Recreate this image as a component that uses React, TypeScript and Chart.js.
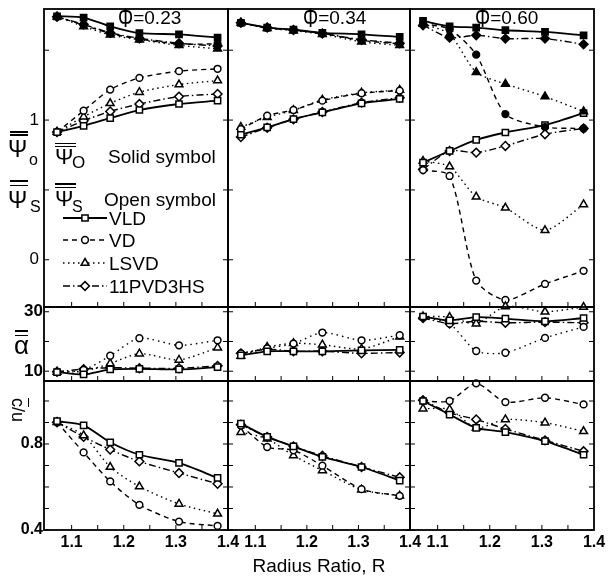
import React, { useEffect, useRef } from 'react';
import { Chart, registerables } from 'chart.js';

Chart.register(...registerables);

const W = 608;
const H = 581;
const FONT = '"Liberation Sans", Arial, sans-serif';
Chart.defaults.font.family = FONT;

// ---------- data ----------
const R = [1.072, 1.123, 1.174, 1.23, 1.306, 1.38];
const X_MIN = 1.047;
const X_MAX = 1.4;
const X_TICKS = [1.1, 1.15, 1.2, 1.25, 1.3, 1.35];
const X_LABELS = [1.1, 1.2, 1.3, 1.4];
const X_LABEL_TEXT = ['1.1', '1.2', '1.3', '1.4'];

const PHI = ['0.23', '0.34', '0.60'];
const SERIES_NAMES = ['VLD', 'VD', 'LSVD', '11PVD3HS'];

// psi-bar-o (solid symbols), phi = 0.23
const psiO_023_VLD = [1.743, 1.734, 1.671, 1.623, 1.613, 1.59];
const psiO_023_VD = [1.74, 1.68, 1.62, 1.58, 1.545, 1.545];
const psiO_023_LSVD = [1.74, 1.67, 1.61, 1.575, 1.535, 1.51];
const psiO_023_PVD = [1.74, 1.685, 1.625, 1.585, 1.55, 1.53];
// psi-bar-s (open symbols), phi = 0.23
const psiS_023_VLD = [0.914, 0.959, 1.014, 1.072, 1.115, 1.139];
const psiS_023_VD = [0.914, 1.067, 1.218, 1.302, 1.35, 1.367];
const psiS_023_LSVD = [0.914, 1.024, 1.12, 1.2, 1.254, 1.283];
const psiS_023_PVD = [0.914, 0.995, 1.062, 1.115, 1.168, 1.187];

// phi = 0.34
const psiO_034_VLD = [1.696, 1.662, 1.647, 1.624, 1.614, 1.595];
const psiO_034_VD = [1.696, 1.66, 1.645, 1.62, 1.57, 1.545];
const psiO_034_LSVD = [1.696, 1.658, 1.64, 1.615, 1.56, 1.535];
const psiO_034_PVD = [1.696, 1.662, 1.645, 1.62, 1.575, 1.55];
const psiS_034_VLD = [0.895, 0.947, 1.007, 1.055, 1.12, 1.151];
const psiS_034_VD = [0.935, 1.031, 1.072, 1.139, 1.192, 1.211];
const psiS_034_LSVD = [0.95, 1.02, 1.07, 1.145, 1.195, 1.215];
const psiS_034_PVD = [0.878, 0.945, 1.005, 1.058, 1.125, 1.16];

// phi = 0.60
const psiO_060_VLD = [1.71, 1.671, 1.662, 1.643, 1.631, 1.607];
const psiO_060_VD = [1.69, 1.65, 1.468, 1.043, 0.95, 0.94];
const psiO_060_LSVD = [1.69, 1.614, 1.343, 1.259, 1.168, 1.062];
const psiO_060_PVD = [1.679, 1.59, 1.607, 1.583, 1.583, 1.542];
const psiS_060_VLD = [0.695, 0.779, 0.858, 0.911, 0.964, 1.05];
const psiS_060_VD = [0.642, 0.6, -0.149, -0.288, -0.173, -0.079];
const psiS_060_LSVD = [0.707, 0.667, 0.451, 0.372, 0.211, 0.396];
const psiS_060_PVD = [0.647, 0.779, 0.767, 0.815, 0.899, 0.94];

// alpha-bar
const alpha_023_VLD = [9.7, 8.9, 10.6, 10.8, 10.6, 11.4];
const alpha_023_VD = [9.7, 10.4, 15.2, 21.1, 18.7, 20.4];
const alpha_023_LSVD = [9.7, 10.0, 12.6, 15.9, 13.8, 17.9];
const alpha_023_PVD = [9.8, 10.7, 11.2, 11.0, 11.0, 11.8];
const alpha_034_VLD = [15.3, 16.7, 16.7, 16.7, 17.0, 17.2];
const alpha_034_VD = [16.0, 17.7, 19.3, 23.0, 20.4, 22.1];
const alpha_034_LSVD = [15.1, 18.1, 19.4, 18.9, 17.5, 21.6];
const alpha_034_PVD = [16.0, 17.4, 16.7, 16.7, 16.0, 16.3];
const alpha_060_VLD = [28.4, 27.1, 28.2, 27.7, 26.8, 27.9];
const alpha_060_VD = [28.2, 26.0, 16.8, 16.2, 21.2, 24.9];
const alpha_060_LSVD = [28.4, 28.2, 26.0, 31.8, 30.0, 31.6];
const alpha_060_PVD = [27.9, 26.0, 26.8, 26.3, 26.5, 26.3];

// c-bar / u
const cu_023_VLD = [0.906, 0.887, 0.808, 0.75, 0.712, 0.642];
const cu_023_VD = [0.901, 0.761, 0.626, 0.517, 0.439, 0.419];
const cu_023_LSVD = [0.901, 0.84, 0.693, 0.602, 0.521, 0.475];
const cu_023_PVD = [0.901, 0.833, 0.774, 0.719, 0.665, 0.615];
const cu_034_VLD = [0.895, 0.833, 0.789, 0.74, 0.693, 0.63];
const cu_034_VD = [0.886, 0.786, 0.771, 0.699, 0.59, 0.559];
const cu_034_LSVD = [0.855, 0.824, 0.746, 0.677, 0.587, 0.559];
const cu_034_PVD = [0.89, 0.833, 0.789, 0.745, 0.693, 0.645];
const cu_060_VLD = [1.0, 0.937, 0.875, 0.855, 0.813, 0.75];
const cu_060_VD = [1.0, 1.0, 1.082, 0.995, 1.015, 0.984];
const cu_060_LSVD = [0.964, 0.961, 0.875, 0.914, 0.899, 0.859];
const cu_060_PVD = [1.004, 0.945, 0.914, 0.87, 0.817, 0.766];

// y axes: ranges, tick marks and labels
const PSI_RANGE = [-0.338, 1.795];
const PSI_TICKS = [0, 0.5, 1, 1.5];
const PSI_LABELS = [0, 1];
const PSI_LABEL_TEXT = ['0', '1'];
const ALPHA_RANGE = [6.7, 31.6];
const ALPHA_TICKS = [10, 20, 30];
const ALPHA_LABELS = [10, 30];
const ALPHA_LABEL_TEXT = ['10', '30'];
const CU_RANGE = [0.4, 1.093];
const CU_TICKS = [0.4, 0.5, 0.6, 0.7, 0.8, 0.9, 1.0];
const CU_LABELS = [0.4, 0.8];
const CU_LABEL_TEXT = ['0.4', '0.8'];

// ---------- layout ----------
const COLS = [[44, 228], [228, 410], [410, 594]];
const ROWS = [[9, 307], [307, 381], [381, 530]];
const YW = 40;
const XH = 30;

const KINDS = [
  { style: 'rect', dash: [] as number[], width: 1.8, radius: 4.4 },
  { style: 'circle', dash: [5, 4], width: 1.4, radius: 3.4 },
  { style: 'triangle', dash: [1.5, 3.5], width: 1.4, radius: 4.5 },
  { style: 'rectRot', dash: [7, 3, 1.5, 3], width: 1.4, radius: 4.4 },
];

type S = { vals: number[]; kind: number; filled: boolean; dash?: number[] };

const ROW_AXES = [
  { range: PSI_RANGE, ticks: PSI_TICKS, labels: PSI_LABELS, text: PSI_LABEL_TEXT, size: 17, weight: 'normal', pad: 5 },
  { range: ALPHA_RANGE, ticks: ALPHA_TICKS, labels: ALPHA_LABELS, text: ALPHA_LABEL_TEXT, size: 17, weight: 'bold', pad: 1 },
  { range: CU_RANGE, ticks: CU_TICKS, labels: CU_LABELS, text: CU_LABEL_TEXT, size: 16, weight: 'bold', pad: 1 },
];

const psiPanel = (o: number[][], s: number[][]): S[] => [
  ...o.map((v, k) => ({ vals: v, kind: k, filled: true })),
  ...s.map((v, k) => ({ vals: v, kind: k, filled: false })),
];

const PANELS: { r: number; c: number; series: S[] }[] = [
  { r: 0, c: 0, series: psiPanel([psiO_023_VLD, psiO_023_VD, psiO_023_LSVD, psiO_023_PVD], [psiS_023_VLD, psiS_023_VD, psiS_023_LSVD, psiS_023_PVD]) },
  { r: 0, c: 1, series: psiPanel([psiO_034_VLD, psiO_034_VD, psiO_034_LSVD, psiO_034_PVD], [psiS_034_VLD, psiS_034_VD, psiS_034_LSVD, psiS_034_PVD]) },
  { r: 0, c: 2, series: psiPanel([psiO_060_VLD, psiO_060_VD, psiO_060_LSVD, psiO_060_PVD], [psiS_060_VLD, psiS_060_VD, psiS_060_LSVD, psiS_060_PVD]) },
  ...[[alpha_023_VLD, alpha_023_VD, alpha_023_LSVD, alpha_023_PVD], [alpha_034_VLD, alpha_034_VD, alpha_034_LSVD, alpha_034_PVD], [alpha_060_VLD, alpha_060_VD, alpha_060_LSVD, alpha_060_PVD]].map((g, c) => ({
    r: 1, c, series: g.map((v, k) => ({ vals: v, kind: k, filled: false, dash: k === 1 ? [1.5, 4] : undefined })),
  })),
  ...[[cu_023_VLD, cu_023_VD, cu_023_LSVD, cu_023_PVD], [cu_034_VLD, cu_034_VD, cu_034_LSVD, cu_034_PVD], [cu_060_VLD, cu_060_VD, cu_060_LSVD, cu_060_PVD]].map((g, c) => ({
    r: 2, c, series: g.map((v, k) => ({ vals: v, kind: k, filled: false })),
  })),
];

function drawMarker(ctx: CanvasRenderingContext2D, style: string, x: number, y: number, r: number, filled: boolean) {
  ctx.beginPath();
  if (style === 'circle') ctx.arc(x, y, r, 0, Math.PI * 2);
  else if (style === 'rect') { const h = r * Math.SQRT1_2; ctx.rect(x - h, y - h, 2 * h, 2 * h); }
  else if (style === 'triangle') { ctx.moveTo(x, y - r); ctx.lineTo(x + r * 0.87, y + r * 0.5); ctx.lineTo(x - r * 0.87, y + r * 0.5); ctx.closePath(); }
  else { ctx.moveTo(x, y - r); ctx.lineTo(x + r, y); ctx.lineTo(x, y + r); ctx.lineTo(x - r, y); ctx.closePath(); }
  ctx.fillStyle = filled ? '#000' : '#fff';
  ctx.fill();
  ctx.setLineDash([]);
  ctx.lineWidth = 1.5;
  ctx.strokeStyle = '#000';
  ctx.stroke();
}

const LEGEND_Y = [218, 240, 263, 286];

function makeConfig(p: { r: number; c: number; series: S[] }): any {
  const [x0, x1] = COLS[p.c];
  const [y0, y1] = ROWS[p.r];
  const ax = ROW_AXES[p.r];
  const datasets = p.series.map((s) => {
    const k = KINDS[s.kind];
    return {
      data: R.map((x, i) => ({ x, y: s.vals[i] })),
      borderColor: '#000',
      borderWidth: k.width,
      borderDash: s.dash ?? k.dash,
      pointStyle: k.style,
      pointRadius: k.radius,
      pointBorderWidth: 1.5,
      pointBorderColor: '#000',
      pointBackgroundColor: s.filled ? '#000' : '#fff',
      tension: 0.25,
      fill: false,
      clip: false,
    };
  });
  const frame = {
    id: 'frame' + p.r + p.c,
    afterDraw(chart: any) {
      const { ctx, chartArea: a, scales } = chart;
      ctx.save();
      ctx.setLineDash([]);
      ctx.strokeStyle = '#000';
      ctx.lineWidth = 1;
      ctx.beginPath();
      for (const v of ax.ticks) {
        const py = scales.y.getPixelForValue(v);
        ctx.moveTo(a.left, py); ctx.lineTo(a.left + 5, py);
        ctx.moveTo(a.right, py); ctx.lineTo(a.right - 5, py);
      }
      for (const v of X_TICKS) {
        const px = scales.x.getPixelForValue(v);
        ctx.moveTo(px, a.bottom); ctx.lineTo(px, a.bottom - 5);
      }
      ctx.stroke();
      ctx.lineWidth = 1.8;
      ctx.strokeRect(a.left, a.top, a.right - a.left, a.bottom - a.top);
      if (p.r === 0 && p.c === 0) {
        LEGEND_Y.forEach((ly, k) => {
          const kd = KINDS[k];
          ctx.beginPath();
          ctx.setLineDash(kd.dash);
          ctx.lineWidth = kd.width;
          ctx.moveTo(63, ly); ctx.lineTo(107, ly);
          ctx.stroke();
          drawMarker(ctx, kd.style, 85, ly, kd.radius, false);
        });
      }
      ctx.restore();
    },
  };
  const zeroPad = (s: any) => { s.paddingLeft = 0; s.paddingRight = 0; s.paddingTop = 0; s.paddingBottom = 0; };
  return {
    type: 'line',
    data: { datasets },
    plugins: [frame],
    options: {
      animation: false,
      responsive: false,
      maintainAspectRatio: false,
      devicePixelRatio: 1,
      events: [],
      layout: { padding: { left: x0 - YW, right: W - x1, top: y0, bottom: H - y1 - XH } },
      plugins: { legend: { display: false }, tooltip: { enabled: false }, title: { display: false } },
      scales: {
        x: {
          type: 'linear', position: 'bottom', min: X_MIN, max: X_MAX,
          grid: { display: false, drawTicks: false }, border: { display: false },
          ticks: {
            display: p.r === 2, padding: 3, color: '#000', autoSkip: false, maxRotation: 0, minRotation: 0,
            font: { family: FONT, size: 16, weight: 'bold' },
            callback: (v: number) => { const i = X_LABELS.findIndex((t) => Math.abs(t - v) < 1e-9); return i >= 0 ? X_LABEL_TEXT[i] : ''; },
          },
          afterBuildTicks: (s: any) => { s.ticks = X_LABELS.map((v) => ({ value: v })); },
          afterFit: (s: any) => { s.height = XH; zeroPad(s); },
        },
        y: {
          type: 'linear', position: 'left', min: ax.range[0], max: ax.range[1],
          grid: { display: false, drawTicks: false }, border: { display: false },
          ticks: {
            display: p.c === 0, padding: ax.pad, color: '#000', autoSkip: false,
            font: { family: FONT, size: ax.size, weight: ax.weight },
            callback: (v: number) => { const i = ax.labels.findIndex((t) => Math.abs(t - v) < 1e-9); return i >= 0 ? ax.text[i] : ''; },
          },
          afterBuildTicks: (s: any) => { s.ticks = ax.labels.map((v) => ({ value: v })); },
          afterFit: (s: any) => { s.width = YW; zeroPad(s); },
        },
      },
    },
  };
}

function Panel({ p }: { p: { r: number; c: number; series: S[] } }) {
  const ref = useRef<HTMLCanvasElement>(null);
  useEffect(() => {
    const chart = new Chart(ref.current as HTMLCanvasElement, makeConfig(p));
    return () => chart.destroy();
  }, []);
  return <canvas ref={ref} width={W} height={H} style={{ position: 'absolute', left: 0, top: 0, width: W, height: H }} />;
}

function Txt(props: { x: number; cy: number; size: number; children: any; bold?: boolean; center?: boolean; style?: any }) {
  const { x, cy, size, children, bold, center, style } = props;
  return (
    <div style={{ position: 'absolute', left: x, top: cy - size * 0.49, fontSize: size, lineHeight: 1, whiteSpace: 'nowrap', fontWeight: bold ? 'bold' : 'normal', transform: center ? 'translateX(-50%)' : undefined, ...style }}>
      {children}
    </div>
  );
}

function Bar({ x, y, w, h = 1.6 }: { x: number; y: number; w: number; h?: number }) {
  return <div style={{ position: 'absolute', left: x, top: y, width: w, height: h, background: '#000' }} />;
}

const PHI_X = [118, 303, 475];

export default function App() {
  return (
    <div style={{ position: 'absolute', left: 0, top: 0, width: W, height: H, background: '#fff', fontFamily: FONT, color: '#000', overflow: 'hidden' }}>
      {PANELS.map((p) => <Panel key={`${p.r}-${p.c}`} p={p} />)}

      {PHI.map((t, i) => (
        <Txt key={t} x={PHI_X[i]} cy={17} size={19}>
          <span style={{ display: 'inline-block', transform: 'scaleY(1.45)' }}>Φ</span>={t}
        </Txt>
      ))}

      {/* outer y titles, top row */}
      <Bar x={10} y={131} w={18} />
      <Bar x={10} y={134.2} w={18} />
      <Txt x={8} cy={149} size={23}>Ψ</Txt>
      <Txt x={29} cy={160} size={16}>o</Txt>
      <Bar x={10} y={180} w={18} />
      <Bar x={10} y={184.5} w={18} />
      <Txt x={8} cy={200} size={23}>Ψ</Txt>
      <Txt x={30} cy={207} size={16}>S</Txt>

      {/* inner notes */}
      <Bar x={55} y={142.5} w={21} />
      <Bar x={55} y={145.7} w={21} />
      <Txt x={55} cy={157} size={22}>Ψ</Txt>
      <Txt x={72} cy={162} size={17}>O</Txt>
      <Txt x={108} cy={156} size={19}>Solid symbol</Txt>
      <Bar x={55} y={183} w={21} />
      <Bar x={55} y={186.5} w={21} />
      <Txt x={55} cy={199} size={22}>Ψ</Txt>
      <Txt x={72} cy={207} size={16}>S</Txt>
      <Txt x={104} cy={199} size={19}>Open symbol</Txt>

      {/* legend texts */}
      {SERIES_NAMES.map((n, k) => (
        <Txt key={n} x={109} cy={LEGEND_Y[k]} size={19}>{n}</Txt>
      ))}

      {/* alpha title */}
      <Bar x={15} y={330} w={13} />
      <Bar x={15} y={334.5} w={13} />
      <Txt x={14} cy={345} size={26}>α</Txt>

      {/* c/u title, rotated */}
      <div style={{ position: 'absolute', left: 18, top: 410, fontSize: 18, lineHeight: 1, whiteSpace: 'nowrap', transform: 'translate(-50%, -50%) rotate(90deg)' }}>
        <span style={{ textDecoration: 'overline' }}>c</span>/u
      </div>

      <Txt x={319} cy={565} size={19} center>Radius Ratio, R</Txt>
    </div>
  );
}
